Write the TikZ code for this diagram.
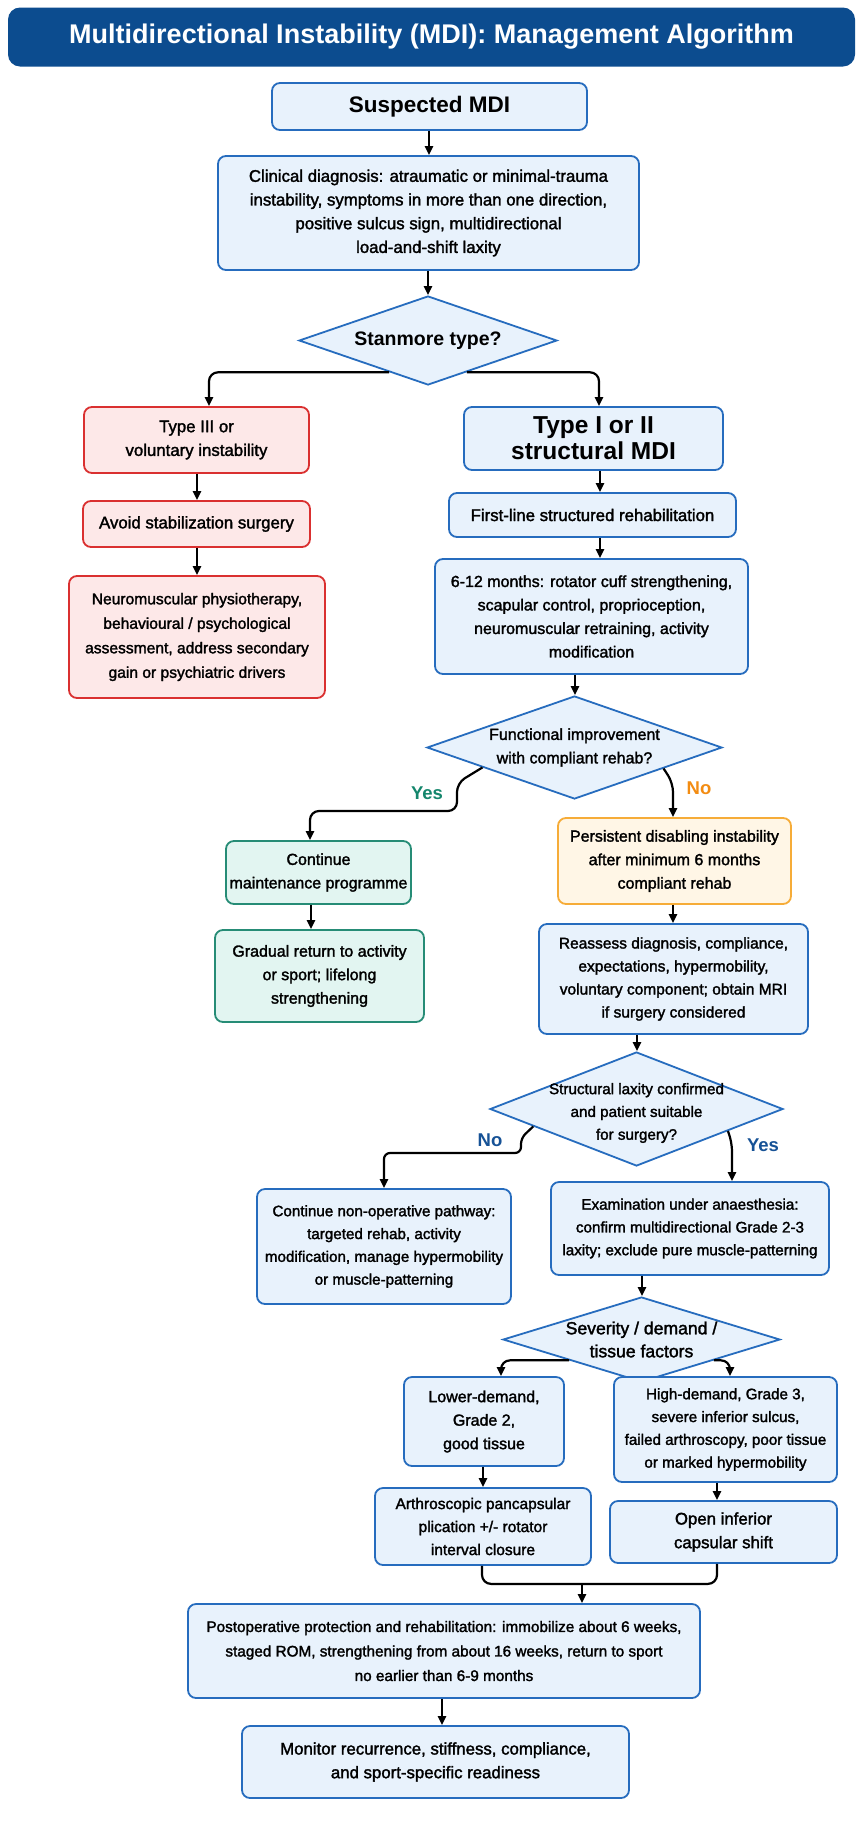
\documentclass[tikz,border=0pt]{standalone}
\usepackage{fontspec}
\setmainfont{Liberation Sans}
\newfontfamily\boxfont{Liberation Sans}[FakeBold=1.8]
\usepackage{tikz}
\usetikzlibrary{arrows.meta, positioning, shapes.geometric, calc}

\definecolor{hdrblue}{RGB}{12,76,143}
\definecolor{boxblue}{RGB}{232,242,252}
\definecolor{lineblue}{RGB}{38,108,190}
\definecolor{boxred}{RGB}{253,232,232}
\definecolor{linered}{RGB}{218,48,48}
\definecolor{boxgreen}{RGB}{226,245,241}
\definecolor{linegreen}{RGB}{38,140,118}
\definecolor{boxorange}{RGB}{255,246,230}
\definecolor{lineorange}{RGB}{246,172,56}
\definecolor{yesgreen}{RGB}{20,134,108}
\definecolor{noorange}{RGB}{243,140,18}
\definecolor{lblblue}{RGB}{22,82,150}
\newcommand\fsz[2]{\fontsize{#1}{#2}\selectfont}

\begin{document}
\begin{tikzpicture}[x=1pt, y=-1pt,
    hdr/.style={fill=hdrblue, rounded corners=12pt, text=white, font=\bfseries\fsz{27}{30}},
    box/.style={draw=lineblue, fill=boxblue, line width=1.8pt, rounded corners=8pt,
      align=center, inner sep=2pt, font=\boxfont\fsz{16}{23.5}},
    redbox/.style={box, draw=linered, fill=boxred},
    greenbox/.style={box, draw=linegreen, fill=boxgreen},
    orangebox/.style={box, draw=lineorange, fill=boxorange},
    sizeA/.style={font=\boxfont\fsz{16.8}{23.7}},
    sizeB/.style={font=\boxfont\fsz{16}{23.5}},
    sizeC/.style={font=\boxfont\fsz{15.5}{23}},
    sizeD/.style={font=\boxfont\fsz{15.2}{22.8}},
    dia/.style={diamond, draw=lineblue, fill=boxblue, line width=1.8pt, inner sep=0pt},
    diatext/.style={align=center, inner sep=0pt},
    arr/.style={line width=2.2pt, -{Triangle[length=9pt, width=8pt]}, rounded corners=9pt},
    lbl/.style={font=\bfseries\fsz{18.5}{20}},
  ]
  \fill[white] (0,0) rectangle (864,1821);
  \useasboundingbox (0,0) rectangle (864,1821);

  \node[hdr, minimum width=847pt, minimum height=59pt] (title) at (431.5,37)
    {Multidirectional Instability (MDI): Management Algorithm};
  \node[box, minimum width=315pt, minimum height=47pt, font=\bfseries\fsz{22.5}{26}] (susp) at (429.5,106.5)
    {Suspected MDI};
  \node[box, sizeA, minimum width=421pt, minimum height=114pt] (clin) at (428.5,213)
    {Clinical diagnosis: atraumatic or minimal-trauma\\instability, symptoms in more than one direction,\\positive sulcus sign, multidirectional\\load-and-shift laxity};
  \node[dia, minimum width=258pt, minimum height=89pt] (d1) at (428,340.5) {};
  \node[diatext, font=\bfseries\fsz{19.5}{22}] (d1t) at (d1.center) {Stanmore type?};

  % left branch
  \node[redbox, sizeA, minimum width=225pt, minimum height=66pt] (t3) at (196.5,440)
    {Type III or\\voluntary instability};
  \node[redbox, sizeA, minimum width=227pt, minimum height=46pt] (avoid) at (196.5,524)
    {Avoid stabilization surgery};
  \node[redbox, font=\boxfont\fsz{15.6}{24.5}, minimum width=256pt, minimum height=122pt] (neuro) at (197,637)
    {Neuromuscular physiotherapy,\\behavioural / psychological\\assessment, address secondary\\gain or psychiatric drivers};

  % right branch
  \node[box, minimum width=259pt, minimum height=63pt, font=\bfseries\fsz{24.5}{25.7}] (t12) at (593.5,438.5)
    {Type I or II\\structural MDI};
  \node[box, sizeA, minimum width=287pt, minimum height=44pt] (first) at (592.5,515)
    {First-line structured rehabilitation};
  \node[box, sizeB, minimum width=313pt, minimum height=115pt] (six) at (591.5,616.5)
    {6-12 months: rotator cuff strengthening,\\scapular control, proprioception,\\neuromuscular retraining, activity\\modification};
  \node[dia, minimum width=295pt, minimum height=103pt] (d2) at (574.5,747.5) {};
  \node[diatext, sizeB] (d2t) at (d2.center) {Functional improvement\\with compliant rehab?};

  \node[greenbox, sizeB, minimum width=185pt, minimum height=63pt] (cont) at (318.5,872.5)
    {Continue\\maintenance programme};
  \node[greenbox, sizeB, minimum width=209pt, minimum height=92pt] (grad) at (319.5,976)
    {Gradual return to activity\\or sport; lifelong\\strengthening};
  \node[orangebox, sizeB, minimum width=233pt, minimum height=86pt] (pers) at (674.5,861)
    {Persistent disabling instability\\after minimum 6 months\\compliant rehab};
  \node[box, sizeC, minimum width=269pt, minimum height=110pt] (reas) at (673.5,979)
    {Reassess diagnosis, compliance,\\expectations, hypermobility,\\voluntary component; obtain MRI\\if surgery considered};
  \node[dia, minimum width=293pt, minimum height=114pt] (d3) at (636.5,1109) {};
  \node[diatext, sizeD] (d3t) at ([yshift=-4pt]d3.center)
    {Structural laxity confirmed\\and patient suitable\\for surgery?};

  \node[box, sizeD, minimum width=254pt, minimum height=115pt] (nonop) at (384,1246.5)
    {Continue non-operative pathway:\\targeted rehab, activity\\modification, manage hypermobility\\or muscle-patterning};
  \node[box, sizeD, minimum width=278pt, minimum height=93pt] (exam) at (690,1228.5)
    {Examination under anaesthesia:\\confirm multidirectional Grade 2-3\\laxity; exclude pure muscle-patterning};
  \node[dia, minimum width=277pt, minimum height=85pt] (d4) at (641.5,1339.5) {};
  \node[diatext, font=\boxfont\fsz{17.6}{23}] (d4t) at (d4.center) {Severity / demand /\\tissue factors};

  % surgical options
  \node[box, sizeB, minimum width=160pt, minimum height=89pt] (low) at (484,1421.5)
    {Lower-demand,\\Grade 2,\\good tissue};
  \node[box, sizeD, minimum width=223pt, minimum height=105pt] (high) at (725.5,1429.5)
    {High-demand, Grade 3,\\severe inferior sulcus,\\failed arthroscopy, poor tissue\\or marked hypermobility};
  \node[box, sizeC, minimum width=216pt, minimum height=77pt] (arth) at (483,1526.5)
    {Arthroscopic pancapsular\\plication +/- rotator\\interval closure};
  \node[box, sizeA, minimum width=227pt, minimum height=62pt] (open) at (723.5,1532)
    {Open inferior\\capsular shift};
  \node[box, font=\boxfont\fsz{15.3}{24.5}, minimum width=512pt, minimum height=94pt] (post) at (444,1651)
    {Postoperative protection and rehabilitation: immobilize about 6 weeks,\\staged ROM, strengthening from about 16 weeks, return to sport\\no earlier than 6-9 months};
  \node[box, sizeA, minimum width=387pt, minimum height=72pt] (mon) at (435.5,1762)
    {Monitor recurrence, stiffness, compliance,\\and sport-specific readiness};

  % straight arrows
  \foreach \From/\To/\X in {susp/clin/429, clin/d1/428, t3/avoid/197, avoid/neuro/197,
      t12/first/600, first/six/600, six/d2/575, cont/grad/311, pers/reas/673,
      reas/d3/637, exam/d4/642, low/arth/483, high/open/717, post/mon/442}
    \draw[arr] (\X,0 |- \From.south) -- (\X,0 |- \To.north);

  % branches
  \draw[arr] ($(d1.south)!0.3!(d1.west)$) -| ([xshift=12.5pt]t3.north);
  \draw[arr] ($(d1.south)!0.3!(d1.east)$) -| ([xshift=5.5pt]t12.north);
  \draw[arr] ($(d2.south)!0.62!(d2.west)$) -- (457,783) -- (457,811) -| ([xshift=-8.5pt]cont.north);
  \draw[arr] ($(d2.south)!0.6!(d2.east)$) -- (673,783) -- ([xshift=-1.5pt]pers.north);
  \draw[arr, rounded corners=6pt] ($(d3.south)!0.7!(d3.west)$) -- (521,1138) -- (521,1153) -| (nonop.north);
  \draw[arr] ($(d3.south)!0.62!(d3.east)$) -- (732,1142) -- ([xshift=42pt]exam.north);
  \draw[arr] ($(d4.south)!0.52!(d4.west)$) -| ([xshift=17pt]low.north);
  \draw[arr] ($(d4.south)!0.52!(d4.east)$) -| ([xshift=4.5pt]high.north);

  % merge into postoperative care
  \draw[line width=2.2pt, rounded corners=9pt] ([xshift=-1pt]arth.south) -- ++(0,18) -| ([xshift=-6.5pt]open.south);
  \coordinate (join) at (582,1583);
  \draw[arr] (join) -- (join |- post.north);

  \node[lbl, text=yesgreen] (yes1) at (427,793) {Yes};
  \node[lbl, text=noorange] (no1) at (699,788) {No};
  \node[lbl, text=lblblue] (no2) at (490,1140) {No};
  \node[lbl, text=lblblue] (yes2) at (763,1145) {Yes};
\end{tikzpicture}
\end{document}
